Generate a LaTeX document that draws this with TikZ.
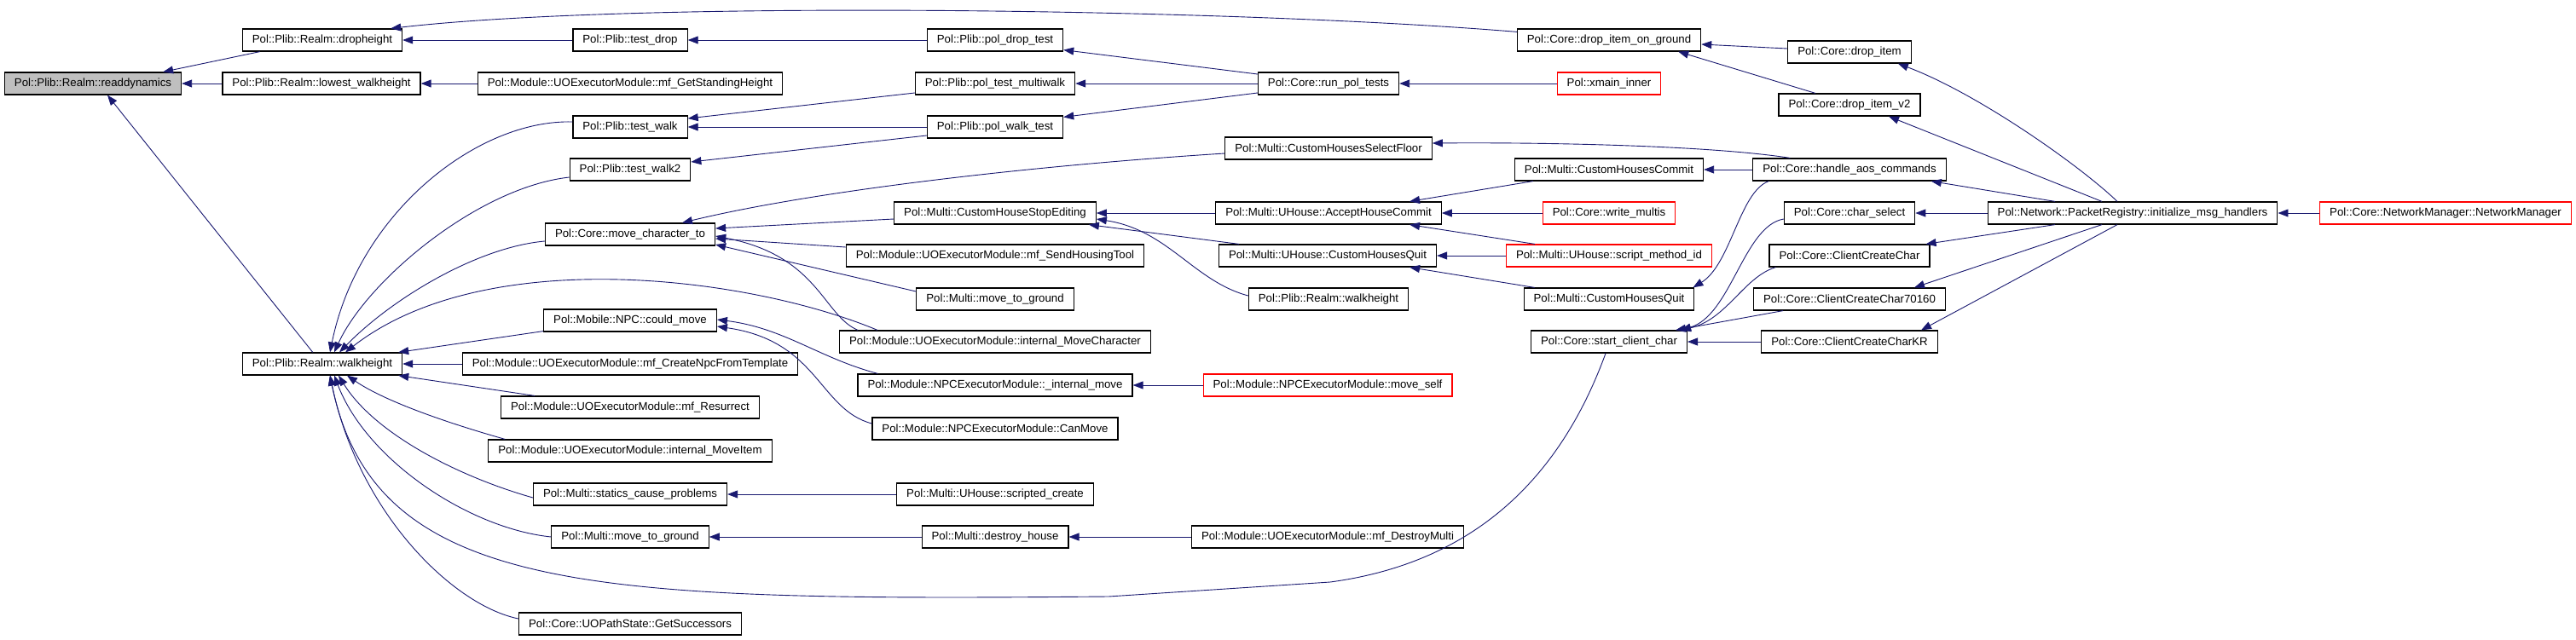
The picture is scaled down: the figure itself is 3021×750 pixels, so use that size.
\documentclass[tikz,border=0pt]{standalone}
\usepackage{fontspec}
\setmainfont{Liberation Sans}
\usetikzlibrary{arrows.meta}
\definecolor{edgeblue}{HTML}{191970}
\definecolor{callgray}{HTML}{BFBFBF}
\tikzset{
	FuncStyle/.style = {draw=black, line width=1.2pt, fill=white, minimum height=26pt,
		inner xsep=11.5pt, inner ysep=0pt, font=\fontsize{13.25}{15}\selectfont},
	RedStyle/.style = {FuncStyle, draw=red},
	HereStyle/.style = {FuncStyle, fill=callgray},
	CallStyle/.style = {draw=edgeblue, line width=0.9pt, -{Triangle[length=12pt,width=9pt]}}
}

\begin{document}
\begin{tikzpicture}[x=1pt,y=-1pt]
	\useasboundingbox (0,0) rectangle (3021,750);
	\node[HereStyle] (readdynamics) at (109,98) {Pol::Plib::Realm::readdynamics};
	\begin{scope}[every node/.style={FuncStyle}]
		\node (dropheight) at (378,47) {Pol::Plib::Realm::dropheight};
		\node (lowestwh) at (377,98) {Pol::Plib::Realm::lowest\_walkheight};
		\node (walkheight) at (378,427) {Pol::Plib::Realm::walkheight};
		\node (testdrop) at (739,47) {Pol::Plib::test\_drop};
		\node (getstanding) at (739,98) {Pol::Module::UOExecutorModule::mf\_GetStandingHeight};
		\node (testwalk) at (739,149) {Pol::Plib::test\_walk};
		\node (testwalktwo) at (739,199) {Pol::Plib::test\_walk2};
		\node (movechar) at (739,275) {Pol::Core::move\_character\_to};
		\node (couldmove) at (739,376) {Pol::Mobile::NPC::could\_move};
		\node (createnpc) at (739,427) {Pol::Module::UOExecutorModule::mf\_CreateNpcFromTemplate};
		\node (resurrect) at (739,478) {Pol::Module::UOExecutorModule::mf\_Resurrect};
		\node (moveitem) at (739,529) {Pol::Module::UOExecutorModule::internal\_MoveItem};
		\node (statics) at (739,580) {Pol::Multi::statics\_cause\_problems};
		\node (mtgleft) at (739,630) {Pol::Multi::move\_to\_ground};
		\node (getsucc) at (739,732) {Pol::Core::UOPathState::GetSuccessors};
		\node (poldroptest) at (1167,47) {Pol::Plib::pol\_drop\_test};
		\node (multiwalk) at (1167,98) {Pol::Plib::pol\_test\_multiwalk};
		\node (walktest) at (1167,149) {Pol::Plib::pol\_walk\_test};
		\node (stopediting) at (1167,250) {Pol::Multi::CustomHouseStopEditing};
		\node (sendhousing) at (1167,300) {Pol::Module::UOExecutorModule::mf\_SendHousingTool};
		\node (mtgmid) at (1167,351) {Pol::Multi::move\_to\_ground};
		\node (movecharacter) at (1167,401) {Pol::Module::UOExecutorModule::internal\_MoveCharacter};
		\node (internalmove) at (1167,452) {Pol::Module::NPCExecutorModule::\_internal\_move};
		\node (canmove) at (1167,503) {Pol::Module::NPCExecutorModule::CanMove};
		\node (scripted) at (1167,580) {Pol::Multi::UHouse::scripted\_create};
		\node (destroyhouse) at (1167,630) {Pol::Multi::destroy\_house};
		\node (runtests) at (1558,98) {Pol::Core::run\_pol\_tests};
		\node (selectfloor) at (1558,174) {Pol::Multi::CustomHousesSelectFloor};
		\node (acceptcommit) at (1558,250) {Pol::Multi::UHouse::AcceptHouseCommit};
		\node (uhousequit) at (1557,300) {Pol::Multi::UHouse::CustomHousesQuit};
		\node (realmwh) at (1558,351) {Pol::Plib::Realm::walkheight};
		\node (destroymulti) at (1557,630) {Pol::Module::UOExecutorModule::mf\_DestroyMulti};
		\node (dropground) at (1887,47) {Pol::Core::drop\_item\_on\_ground};
		\node (housescommit) at (1887,199) {Pol::Multi::CustomHousesCommit};
		\node (multiquit) at (1887,351) {Pol::Multi::CustomHousesQuit};
		\node (startclient) at (1887,401) {Pol::Core::start\_client\_char};
		\node (dropitem) at (2169,61) {Pol::Core::drop\_item};
		\node (dropitemtwo) at (2169,123) {Pol::Core::drop\_item\_v2};
		\node (handleaos) at (2169,199) {Pol::Core::handle\_aos\_commands};
		\node (charselect) at (2169,250) {Pol::Core::char\_select};
		\node (createchar) at (2169,300) {Pol::Core::ClientCreateChar};
		\node (createchar70160) at (2169,351) {Pol::Core::ClientCreateChar70160};
		\node (createcharkr) at (2169,401) {Pol::Core::ClientCreateCharKR};
		\node (initmsg) at (2501,250) {Pol::Network::PacketRegistry::initialize\_msg\_handlers};
	\end{scope}
	\begin{scope}[every node/.style={RedStyle}]
		\node (moveself) at (1557,452) {Pol::Module::NPCExecutorModule::move\_self};
		\node (xmain) at (1887,98) {Pol::xmain\_inner};
		\node (writemultis) at (1887,250) {Pol::Core::write\_multis};
		\node (scriptmethod) at (1887,300) {Pol::Multi::UHouse::script\_method\_id};
		\node (netmanager) at (2868,250) {Pol::Core::NetworkManager::NetworkManager};
	\end{scope}

	% callers of readdynamics
	\draw[CallStyle] ([xshift=21]dropheight.south west) -- ([xshift=-22]readdynamics.north east);
	\draw[CallStyle] (lowestwh) -- (readdynamics);
	\draw[CallStyle] ([xshift=83]walkheight.north west) -- ([xshift=17]readdynamics.south);
	\draw[CallStyle] (testdrop) -- (dropheight);
	\draw[CallStyle] ([yshift=-4]dropground.north west) .. controls (1450,10) and (750,0) .. ([xshift=-14]dropheight.north east);
	\draw[CallStyle] (getstanding) -- (lowestwh);
	% callers of walkheight
	\draw[CallStyle] ([yshift=6]testwalk.west) .. controls (560,140) and (420,250) .. ([xshift=9]walkheight.north);
	\draw[CallStyle] ([yshift=-9]testwalktwo.west) .. controls (560,220) and (430,330) .. ([xshift=14]walkheight.north);
	\draw[CallStyle] ([yshift=-8]movechar.west) .. controls (560,290) and (460,350) .. ([xshift=20]walkheight.north);
	\draw[CallStyle] ([xshift=45]movecharacter.north west) .. controls (880,325) and (570,285) .. ([xshift=27]walkheight.north);
	\draw[CallStyle] ([yshift=1]couldmove.south west) -- ([xshift=-5]walkheight.north east);
	\draw[CallStyle] (createnpc) -- (walkheight);
	\draw[CallStyle] ([xshift=40]resurrect.north west) -- ([xshift=-5]walkheight.south east);
	\draw[CallStyle] ([xshift=20]moveitem.north west) .. controls (520,495) and (450,470) .. ([xshift=29]walkheight.south);
	\draw[CallStyle] ([yshift=-4]statics.west) .. controls (540,560) and (440,510) .. ([xshift=19]walkheight.south);
	\draw[CallStyle] (mtgleft.west) .. controls (550,620) and (430,540) .. ([xshift=14]walkheight.south);
	\draw[CallStyle] ([yshift=6]getsucc.west) .. controls (530,710) and (420,600) .. ([xshift=9]walkheight.south);
	\draw[CallStyle] ([xshift=-4]startclient.south) .. controls (1830,560) and (1730,660) .. (1560,683)
		-- (1300,700) .. controls (700,705) and (440,700) .. ([xshift=9]walkheight.south);
	% callers of move_character_to and could_move
	\draw[CallStyle] ([yshift=-6]selectfloor.west) .. controls (1200,195) and (950,225) .. ([xshift=61]movechar.north);
	\draw[CallStyle] ([yshift=-7]stopediting.west) -- ([yshift=7]movechar.east);
	\draw[CallStyle] ([yshift=10]sendhousing.west) -- ([yshift=-5]movechar.east);
	\draw[CallStyle] ([yshift=9]mtgmid.west) -- ([yshift=-12]movechar.east);
	\draw[CallStyle] ([xshift=22]movecharacter.north west) .. controls (965,370) and (960,300) .. ([yshift=-2]movechar.east);
	\draw[CallStyle] ([xshift=24]internalmove.north west) .. controls (960,420) and (920,385) .. ([yshift=1]couldmove.east);
	\draw[CallStyle] ([yshift=6]canmove.west) .. controls (960,480) and (960,400) .. ([yshift=-7]couldmove.east);
	\draw[CallStyle] (moveself) -- (internalmove);
	\draw[CallStyle] (scripted) -- (statics);
	\draw[CallStyle] (destroyhouse) -- (mtgleft);
	\draw[CallStyle] (destroymulti) -- (destroyhouse);
	% test functions
	\draw[CallStyle] (poldroptest) -- (testdrop);
	\draw[CallStyle] ([yshift=-11]multiwalk.west) -- ([yshift=10]testwalk.east);
	\draw[CallStyle] (walktest) -- (testwalk);
	\draw[CallStyle] ([yshift=-10]walktest.west) -- ([yshift=9]testwalktwo.east);
	\draw[CallStyle] ([yshift=11]runtests.west) -- ([yshift=2]poldroptest.south east);
	\draw[CallStyle] (runtests) -- (multiwalk);
	\draw[CallStyle] ([yshift=-11]runtests.west) -- ([yshift=-2]walktest.north east);
	\draw[CallStyle] (xmain) -- (runtests);
	% drop items
	\draw[CallStyle] ([yshift=4]dropitem.west) -- ([yshift=-5]dropground.east);
	\draw[CallStyle] ([xshift=-40]dropitemtwo.north) -- ([xshift=-27]dropground.south east);
	% custom houses
	\draw[CallStyle] ([xshift=44]handleaos.north west) .. controls (2000,170) and (1800,167) .. ([yshift=6]selectfloor.east);
	\draw[CallStyle] (handleaos) -- (housescommit);
	\draw[CallStyle] ([xshift=19]handleaos.south west) .. controls (2040,225) and (2030,310) .. ([xshift=-2]multiquit.north east);
	\draw[CallStyle] ([xshift=22]housescommit.south west) -- ([xshift=95]acceptcommit.north);
	\draw[CallStyle] (writemultis) -- (acceptcommit);
	\draw[CallStyle] ([xshift=34]scriptmethod.north west) -- ([xshift=95]acceptcommit.south);
	\draw[CallStyle] (acceptcommit) -- (stopediting);
	\draw[CallStyle] (scriptmethod) -- (uhousequit);
	\draw[CallStyle] ([xshift=13]multiquit.north west) -- ([xshift=96]uhousequit.south);
	\draw[CallStyle] ([xshift=24]uhousequit.north west) -- ([xshift=-9]stopediting.south east);
	\draw[CallStyle] ([yshift=4]realmwh.west) .. controls (1400,330) and (1370,270) .. ([yshift=-7]stopediting.east);
	% start_client_char
	\draw[CallStyle] ([yshift=-7]charselect.west) .. controls (2045,265) and (2030,370) .. ([xshift=-8]startclient.north east);
	\draw[CallStyle] ([xshift=8]createchar.south west) .. controls (2045,325) and (2025,375) .. ([xshift=-8]startclient.north east);
	\draw[CallStyle] ([xshift=35]createchar70160.south west) -- ([xshift=-14]startclient.north east);
	\draw[CallStyle] (createcharkr) -- (startclient);
	% packet registry
	\draw[CallStyle] ([xshift=-18]initmsg.north) .. controls (2440,195) and (2320,110) .. ([xshift=-16]dropitem.south east);
	\draw[CallStyle] ([xshift=-36]initmsg.north) -- ([xshift=46]dropitemtwo.south);
	\draw[CallStyle] ([xshift=-91]initmsg.north) -- ([xshift=-18]handleaos.south east);
	\draw[CallStyle] (initmsg) -- (charselect);
	\draw[CallStyle] ([xshift=-91]initmsg.south) -- ([xshift=-5]createchar.north east);
	\draw[CallStyle] ([xshift=-36]initmsg.south) -- ([xshift=76]createchar70160.north);
	\draw[CallStyle] ([xshift=-18]initmsg.south) -- ([xshift=84]createcharkr.north);
	\draw[CallStyle] (netmanager) -- (initmsg);
\end{tikzpicture}
\end{document}
